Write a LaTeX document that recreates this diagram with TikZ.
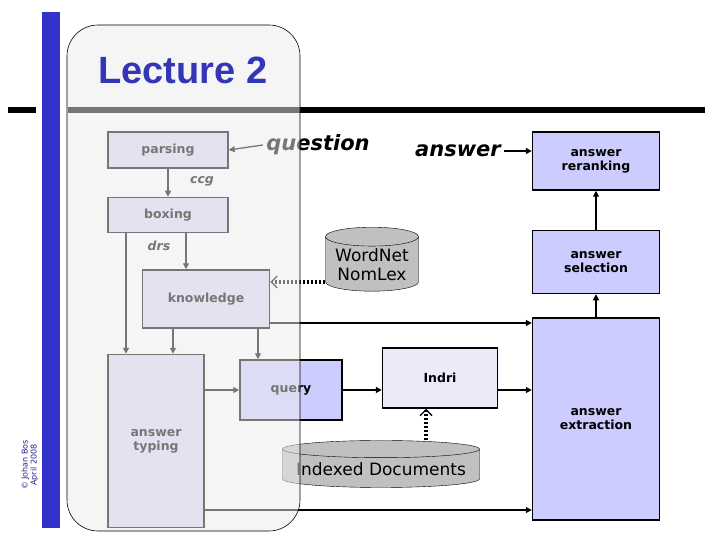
\documentclass[tikz,border=0pt]{standalone}
\usepackage{fontspec}
\setmainfont{DejaVu Sans}
\newfontfamily\arialf{Liberation Sans}
\usetikzlibrary{shapes.geometric,arrows.meta}
\definecolor{lav}{HTML}{D8D8F4}
\definecolor{lavd}{HTML}{CCCCFF}
\definecolor{cyl}{HTML}{C0C0C0}
\definecolor{bbar}{HTML}{3333CC}
\definecolor{ttl}{HTML}{3535B8}
\begin{document}
\begin{tikzpicture}[x=1pt,y=-1pt,
  box/.style={draw=black,line width=1.5pt,fill=#1,font=\bfseries\fontsize{12.5}{14}\selectfont,align=center,inner sep=0pt},
  box/.default=lav,
  arr/.style={line width=1.3pt,-{Triangle[length=6pt,width=6pt]}},
  dot/.style={line width=3.5pt,dash pattern=on 2.5pt off 1.5pt,-{Straight Barb[length=6pt,width=12pt,line width=1.4pt]}},
  lbl/.style={font=\bfseries\itshape\fontsize{12.5}{14}\selectfont},
  db/.style={cylinder,shape border rotate=90,draw=black,fill=cyl,aspect=0.25,inner sep=1pt,align=center,font=\fontsize{17}{19}\selectfont}]
\useasboundingbox (0,0) rectangle (720,540);
\fill[white] (0,0) rectangle (720,540);
\fill[bbar] (42,12) rectangle (60,528);
\draw[line width=6pt] (8,110) -- (36,110) (68,110) -- (705,110);
\node[rotate=90,font=\fontsize{8}{9}\selectfont,text=bbar!70!black,align=center] (copy) at (30,465) {© Johan Bos\\April 2008};
% boxes
\node[box,minimum width=120,minimum height=36] (parsing) at (168,150) {parsing};
\node[box,minimum width=120,minimum height=35] (boxing) at (168,215) {boxing};
\node[box,minimum width=127,minimum height=58] (know) at (206,299) {knowledge};
\node[box,minimum width=96,minimum height=173] (typing) at (156,441) {answer\\typing};
\node[box=lavd,minimum width=102,minimum height=60] (query) at (291,390) {query};
\node[box=lav!55!white,minimum width=115,minimum height=60] (indri) at (440,378) {Indri};
\node[box=lavd,minimum width=127,minimum height=58] (rerank) at (596,161) {answer\\reranking};
\node[box=lavd,minimum width=127,minimum height=63] (select) at (596,262) {answer\\selection};
\node[box=lavd,minimum width=127,minimum height=202] (extract) at (596,419) {answer\\extraction};
\node[db,minimum width=93,minimum height=64] (wn) at (372,265) {WordNet\\NomLex};
\node[db,minimum width=197,minimum height=47,aspect=0.1] (idx) at (381,469) {Indexed Documents};
\node[lbl,font=\bfseries\itshape\fontsize{21}{23}\selectfont] (q) at (318,145) {question};
\node[lbl,font=\bfseries\itshape\fontsize{21}{23}\selectfont] (a) at (458,151) {answer};
\node[lbl] (ccg) at (202,181) {ccg};
\node[lbl] (drs) at (159,246) {drs};
% connectors
\draw[arr] (q.west) -- (parsing.east);
\draw[arr] (a.east) -- (rerank.west|-a.east);
\draw[arr] (parsing.south) -- (boxing.north);
\draw[arr] (boxing.south-|126,0) -- (typing.north-|126,0);
\draw[arr] (boxing.south-|186,0) -- (know.north-|186,0);
\draw[arr] (know.south-|173,0) -- (typing.north-|173,0);
\draw[arr] (know.south-|258,0) -- (query.north-|258,0);
\draw[arr] (know.east|-0,323) -- (extract.west|-0,323);
\draw[arr] (typing.east|-0,390) -- (query.west|-0,390);
\draw[arr] (query.east) -- (indri.west|-query.east);
\draw[arr] (indri.east|-0,390) -- (extract.west|-0,390);
\draw[arr] (typing.east|-0,510) -- (extract.west|-0,510);
\draw[arr] (extract.north) -- (select.south);
\draw[arr] (select.north) -- (rerank.south);
\draw[dot] (wn.west|-0,282) -- (know.east|-0,282);
\draw[dot] (idx.north-|426,0) -- (indri.south-|426,0);
% overlay
\draw[fill=gray!14,fill opacity=0.5,line width=0.6pt,rounded corners=31] (67,25) rectangle (300,531);
\node[font=\arialf\bfseries\fontsize{38}{40}\selectfont,text=ttl] (title) at (183,70) {Lecture 2};
\end{tikzpicture}
\end{document}
